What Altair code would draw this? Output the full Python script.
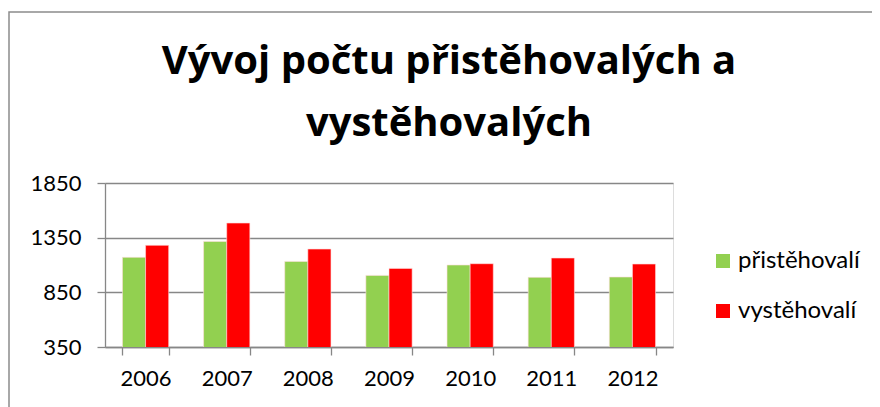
import altair as alt
import pandas as pd

years = ["2006", "2007", "2008", "2009", "2010", "2011", "2012"]
series_names = ["přistěhovalí", "vystěhovalí"]
pristehovali = [1170, 1316, 1133, 1005, 1100, 987, 990]
vystehovali = [1280, 1484, 1246, 1069, 1112, 1164, 1109]
y_ticks = [350, 850, 1350, 1850]
colors = ["#92D050", "#FF0000"]

rows = []
for i, yr in enumerate(years):
    rows.append({"rok": yr, "serie": series_names[0], "hodnota": pristehovali[i]})
    rows.append({"rok": yr, "serie": series_names[1], "hodnota": vystehovali[i]})
df = pd.DataFrame(rows)

FONT = "Lato"

bars = alt.Chart(df).mark_bar(stroke="#ffdddd", strokeWidth=0.6, clip=True).encode(
    x=alt.X("rok:N", title=None, sort=years,
            scale=alt.Scale(paddingInner=0.43, paddingOuter=0.215),
            axis=alt.Axis(labelAngle=0, tickBand="extent", labelFontSize=22,
                          labelFont=FONT, labelColor="#000000", labelPadding=13,
                          domainColor="#878787", tickColor="#878787", tickSize=8,
                          domainWidth=1.3, tickWidth=1.3, grid=False)),
    xOffset=alt.XOffset("serie:N", sort=series_names, scale=alt.Scale(paddingInner=0)),
    y=alt.Y("hodnota:Q", title=None,
            scale=alt.Scale(domain=[350, 1850], nice=False, zero=False),
            axis=alt.Axis(values=y_ticks, format="d", labelFontSize=22, labelFont=FONT,
                          labelColor="#000000", labelPadding=16,
                          domainColor="#878787", tickColor="#878787", tickSize=8,
                          domainWidth=1.3, tickWidth=1.3,
                          gridColor="#878787", gridWidth=1.3)),
    color=alt.Color("serie:N", sort=series_names,
                    scale=alt.Scale(domain=series_names, range=colors),
                    legend=alt.Legend(title=None, orient="none", legendX=606, legendY=66,
                                      symbolType="square", symbolSize=196,
                                      symbolStrokeWidth=0, labelFont=FONT,
                                      labelFontSize=24, labelColor="#000000",
                                      labelOffset=3, rowPadding=26)),
)

border = alt.Chart(pd.DataFrame({"a": [0]})).mark_rect(
    fill=None, stroke="#8c8c8c", strokeWidth=1.5, clip=False
).encode(
    x=alt.value(-96), x2=alt.value(900), y=alt.value(-171), y2=alt.value(400)
)

chart = alt.layer(border, bars).properties(
    width=568, height=164,
    autosize=alt.AutoSizeParams(type="none"),
    padding={"left": 97, "top": 175, "right": 199, "bottom": 60},
    title=alt.TitleParams(
        text=["Vývoj počtu přistěhovalých a", "vystěhovalých"],
        font="Open Sans", fontSize=40, fontWeight="bold", color="#000000",
        anchor="middle", frame="group", dx=60, lineHeight=62, offset=0, dy=133,
    ),
).configure_view(stroke=None).configure(background="white")

chart.save("out.html", embed_options={"renderer": "svg", "actions": False})
